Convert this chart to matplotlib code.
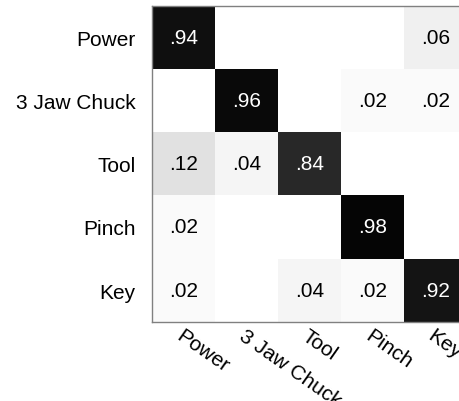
import matplotlib
matplotlib.use("Agg")
import matplotlib.pyplot as plt
import numpy as np

labels = ["Power", "3 Jaw Chuck", "Tool", "Pinch", "Key"]
power_row = [0.94, 0.00, 0.00, 0.00, 0.06]
chuck_row = [0.00, 0.96, 0.00, 0.02, 0.02]
tool_row = [0.12, 0.04, 0.84, 0.00, 0.00]
pinch_row = [0.02, 0.00, 0.00, 0.98, 0.00]
key_row = [0.02, 0.00, 0.04, 0.02, 0.92]

M = np.array([power_row, chuck_row, tool_row, pinch_row, key_row])

plt.rcParams['font.family'] = ['Liberation Sans', 'DejaVu Sans']

fig = plt.figure(figsize=(4.6, 4.02), dpi=100)
ax = fig.add_axes([152/460, 1 - 322.7/402, 315/460, 315.7/402])
ax.imshow(M, cmap='gray_r', vmin=0, vmax=1, aspect='auto', interpolation='nearest')

for i in range(M.shape[0]):
    for j in range(M.shape[1]):
        v = M[i, j]
        if v > 0:
            txt = ("%.2f" % v).lstrip('0')
            ax.text(j, i, txt, ha='center', va='center', fontsize=15,
                    color='white' if v > 0.5 else 'black')

ax.set_xticks(range(len(labels)))
ax.set_yticks(range(len(labels)))
ax.set_yticklabels(labels, fontsize=15)
ax.set_xticklabels(labels, fontsize=15, rotation=-35, ha='left', va='top',
                   rotation_mode='anchor')
ax.tick_params(length=0)
ax.tick_params(axis='y', pad=12)
ax.tick_params(axis='x', pad=3)
for s in ax.spines.values():
    s.set_color('#808080')
    s.set_linewidth(1)

fig.savefig("out.png", dpi=100)
